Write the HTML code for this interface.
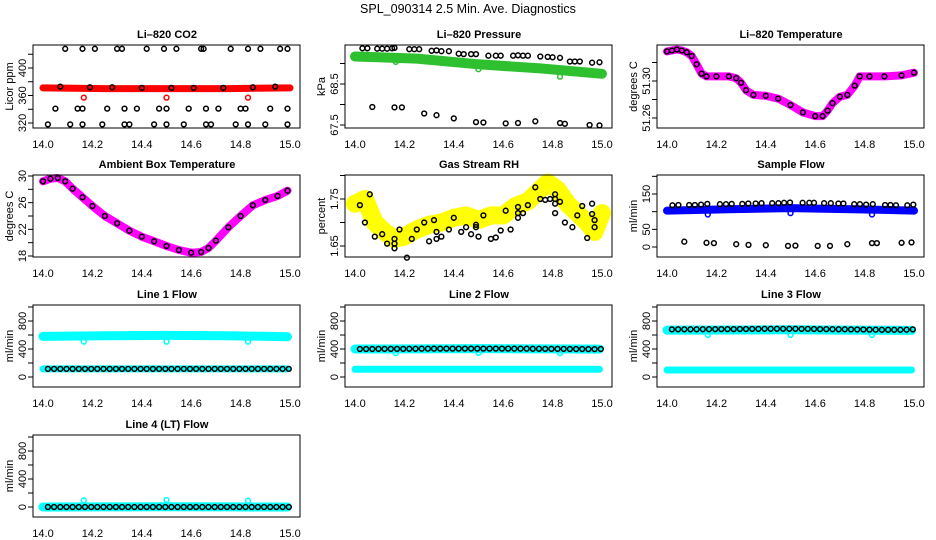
<!DOCTYPE html>
<html><head><meta charset="utf-8">
<style>
html,body{margin:0;padding:0;background:#fff;}
svg{display:block;font-family:"Liberation Sans",Arial,sans-serif;}
.tl{font-size:11px;fill:#000;}
.tt{font-size:11px;font-weight:bold;fill:#000;}
</style></head>
<body>
<svg id="chart" width="936" height="540" viewBox="0 0 936 540" xmlns="http://www.w3.org/2000/svg">
<text x="468" y="13" text-anchor="middle" style="font-size:12.5px">SPL_090314  2.5 Min. Ave. Diagnostics</text>
</svg>
<script>
// ---------- data ----------
const xTickLabels = ["14.0","14.2","14.4","14.6","14.8","15.0"];
const xTickValues = [14.0,14.2,14.4,14.6,14.8,15.0];

// CO2
const co2BandT = [14.0,14.25,14.5,14.75,15.0];
const co2BandV = [371,370,370,370,371];
const co2RedOutT = [14.165,14.5,14.83];
const co2RedOutV = [357,357,357];
const co2BlackT = [14.09,14.16,14.21,14.30,14.32,14.42,14.49,14.54,14.64,14.65,14.76,14.83,14.88,14.96,14.99,
  14.07,14.19,14.28,14.40,14.52,14.61,14.73,14.85,14.94,
  14.05,14.14,14.16,14.26,14.33,14.38,14.47,14.50,14.59,14.66,14.71,14.80,14.82,14.92,14.99,
  14.02,14.11,14.16,14.24,14.33,14.35,14.45,14.50,14.57,14.66,14.68,14.78,14.83,14.90,14.99];
const co2BlackV = [428,428,428,428,428,428,428,428,428,428,428,428,428,428,428,
  373,372,372,371,371,371,371,372,373,
  341,341,341,341,341,341,341,341,341,341,341,341,341,341,341,
  318,318,318,318,318,318,318,318,318,318,318,318,318,318,318];

// Pressure
const presBandT = [14.0,14.25,14.5,14.75,15.0];
const presBandV = [69.17,69.12,68.98,68.88,68.75];
const presGreenOutT = [14.165,14.5,14.83];
const presGreenOutV = [69.04,68.86,68.68];
const presUpperT = [14.03,14.05,14.09,14.11,14.13,14.15,14.16,14.22,14.24,14.26,14.31,14.33,14.35,14.38,14.42,14.44,14.47,14.49,14.54,14.57,14.59,14.64,14.66,14.68,14.70,14.75,14.78,14.80,14.83,14.87,14.89,14.91,14.96,14.99];
const presUpperV = [69.37,69.37,69.36,69.36,69.36,69.37,69.38,69.35,69.35,69.35,69.31,69.32,69.30,69.30,69.24,69.23,69.23,69.23,69.19,69.19,69.19,69.19,69.20,69.19,69.19,69.17,69.16,69.15,69.14,69.05,69.05,69.05,69.02,69.03];
const presLowT = [14.07,14.16,14.19,14.28,14.33,14.40,14.49,14.52,14.61,14.66,14.73,14.83,14.85,14.95,14.99];
const presLowV = [67.94,67.93,67.93,67.78,67.74,67.66,67.57,67.56,67.54,67.55,67.59,67.55,67.53,67.50,67.49];

// Li-820 temperature
const tempT = [14.0,14.02,14.04,14.06,14.08,14.10,14.12,14.14,14.16,14.20,14.25,14.28,14.30,14.32,14.35,14.40,14.45,14.50,14.55,14.60,14.63,14.65,14.67,14.70,14.73,14.76,14.78,14.82,14.88,14.95,15.0];
const tempV = [51.332,51.333,51.334,51.333,51.331,51.327,51.318,51.308,51.305,51.305,51.305,51.303,51.298,51.290,51.285,51.284,51.281,51.274,51.266,51.262,51.262,51.268,51.276,51.283,51.285,51.295,51.305,51.305,51.305,51.306,51.309];

// Ambient box temperature
const ambT = [14.0,14.03,14.06,14.09,14.12,14.16,14.2,14.25,14.3,14.35,14.4,14.45,14.5,14.55,14.6,14.64,14.67,14.7,14.75,14.8,14.85,14.9,14.95,14.99];
const ambV = [29.2,29.6,29.7,29.2,28.1,26.8,25.5,24.0,22.9,21.8,20.9,20.2,19.5,18.9,18.5,18.6,19.2,20.3,22.3,24.0,25.6,26.4,27.0,27.8];

// Gas stream RH
const rhBandT = [14.0,14.04,14.08,14.12,14.16,14.2,14.25,14.3,14.35,14.4,14.45,14.5,14.55,14.6,14.65,14.7,14.75,14.78,14.82,14.86,14.9,14.94,14.97,15.0];
const rhBandV = [1.74,1.75,1.70,1.68,1.665,1.67,1.685,1.695,1.70,1.71,1.715,1.705,1.715,1.715,1.735,1.745,1.77,1.785,1.77,1.74,1.72,1.70,1.68,1.72];
const rhBlackT = [14.02,14.04,14.06,14.08,14.11,14.13,14.16,14.16,14.16,14.18,14.21,14.23,14.25,14.28,14.30,14.32,14.33,14.33,14.35,14.38,14.40,14.43,14.45,14.47,14.49,14.49,14.50,14.52,14.55,14.57,14.59,14.61,14.63,14.66,14.66,14.66,14.68,14.70,14.73,14.75,14.77,14.79,14.81,14.81,14.81,14.81,14.83,14.85,14.88,14.90,14.92,14.94,14.96,14.96,14.97,14.97];
const rhBlackV = [1.737,1.70,1.76,1.67,1.675,1.655,1.665,1.645,1.655,1.685,1.625,1.665,1.685,1.70,1.66,1.705,1.68,1.665,1.67,1.685,1.71,1.68,1.69,1.675,1.695,1.69,1.67,1.715,1.665,1.668,1.683,1.725,1.685,1.733,1.72,1.71,1.72,1.737,1.775,1.75,1.748,1.75,1.75,1.76,1.74,1.72,1.744,1.70,1.69,1.715,1.735,1.667,1.74,1.718,1.705,1.69];

// Sample flow
const sfBandT = [14.0,14.25,14.5,14.75,15.0];
const sfBandV = [103,107,110,107,103];
const sfBlueOutT = [14.165,14.5,14.83];
const sfBlueOutV = [92,96,92];
const sfUpperT = [14.022,14.046,14.090,14.113,14.138,14.163,14.214,14.239,14.262,14.305,14.329,14.359,14.383,14.426,14.451,14.474,14.498,14.549,14.576,14.595,14.636,14.663,14.694,14.714,14.758,14.781,14.806,14.833,14.883,14.905,14.927,14.973,14.997];
const sfUpperV = [118,119,119,119,120,122,121,121,122,122,123,123,124,124,124,125,126,125,125,125,124,124,123,123,121,121,120,121,119,119,118,118,120];
const sfLowT = [14.07,14.16,14.19,14.28,14.33,14.40,14.49,14.52,14.61,14.66,14.73,14.83,14.85,14.95,14.99];
const sfLowV = [15,12,11,8,6,5,3,4,3,3,8,11,11,12,13];

// Line flows
const flowT = [14.02,14.045,14.07,14.095,14.12,14.145,14.17,14.195,14.22,14.245,14.27,14.295,14.32,14.345,14.37,14.395,14.42,14.445,14.47,14.495,14.52,14.545,14.57,14.595,14.62,14.645,14.67,14.695,14.72,14.745,14.77,14.795,14.82,14.845,14.87,14.895,14.92,14.945,14.97,14.995];
const line1Black = [115,115,115,115,115,115,115,115,115,115,115,115,115,115,115,115,115,115,115,115,115,115,115,115,115,115,115,115,115,115,115,115,115,115,115,115,115,115,115,115];
const line2Black = [400,400,400,401,401,402,402,402,403,403,404,404,404,405,405,405,406,406,406,406,406,406,405,405,405,404,404,404,403,403,402,402,401,401,400,400,400,399,399,400];
const line3Black = [680,681,681,682,682,683,683,684,684,685,685,686,686,687,687,688,688,688,688,688,688,687,687,686,685,684,683,682,681,680,679,678,677,676,675,674,674,675,676,680];
const line4Black = [0,0,0,0,0,0,0,0,0,0,0,0,0,0,0,0,0,0,0,0,0,0,0,0,0,0,0,0,0,0,0,0,0,0,0,0,0,0,0,0];
const bandT = [14.0,14.25,14.5,14.75,14.99];
const line1Top = [580,590,595,590,575];
const line1Bot = [115,115,115,115,115];
const line2Top = [400,402,405,402,398];
const line2Bot = [110,110,110,110,110];
const line3Top = [670,672,675,670,665];
const line3Bot = [100,100,100,100,100];
const line4Top = [0,2,3,2,0];
const outT = [14.165,14.5,14.83];
const line1Out = [505,505,505];
const line2Out = [340,345,340];
const line3Out = [600,600,600];
const line4Out = [95,100,90];

// ---------- drawing ----------
const svg = document.getElementById('chart');
const NS = 'http://www.w3.org/2000/svg';
function mk(tag, attrs, parent){
  const e = document.createElementNS(NS, tag);
  for (const k in attrs) e.setAttribute(k, attrs[k]);
  (parent||svg).appendChild(e);
  return e;
}

function panel(cfg){
  const g = mk('g', {});
  
  
  const off = cfg.off, top = cfg.top, bot = cfg.bot;
  const bl = off + 33, br = off + 300;
  const xs = t => off + 43 + (t - 14) * 247;
  const ys = v => cfg.p0 + (v - cfg.v0) * (cfg.p1 - cfg.p0) / (cfg.v1 - cfg.v0);

  const plot = mk('g', {}, g);
  
  

  cfg.series.forEach(s => {
    if (s.type === 'band') {
      const d = s.t.map((t, i) => (i ? 'L' : 'M') + xs(t).toFixed(1) + ' ' + Math.max(top + 1, Math.min(bot - 1, ys(s.v[i]))).toFixed(1)).join(' ');
      const pl = mk('path', {d: d, fill: 'none', stroke: s.color, 'stroke-width': s.w, 'stroke-linecap': 'round', 'stroke-linejoin': 'round'}, plot);
      
      
    } else {
      const sg = mk('g', {}, plot);
      
      
      s.t.forEach((t, i) => {
        const c = mk('circle', {cx: xs(t).toFixed(1), cy: ys(s.v[i]).toFixed(1), r: 2.4, fill: 'none', stroke: s.color, 'stroke-width': 1.5}, sg);
        
        
      });
    }
  });

  const box = mk('rect', {x: bl, y: top, width: br - bl, height: bot - top, fill: 'none', stroke: '#000', 'stroke-width': 1}, g);
  
  

  const ax = bl;
  const yy = cfg.ticks.map(ys);
  const yl = mk('line', {x1: ax, x2: ax, y1: Math.min(...yy), y2: Math.max(...yy), stroke: '#000'}, g);
  
  
  cfg.ticks.forEach(v => {
    const y = ys(v);
    const tk = mk('line', {x1: ax - 5, x2: ax, y1: y, y2: y, stroke: '#000'}, g);
    
    
  });
  cfg.labels.forEach((lab, i) => {
    const y = ys(cfg.labelVals[i]);
    const tx = mk('text', {x: 0, y: 0, class: 'tl', 'text-anchor': 'middle', transform: 'translate(' + (ax - 7) + ',' + y + ') rotate(-90)'}, g);
    tx.textContent = lab;
    
    
  });
  const yt = mk('text', {x: 0, y: 0, class: 'tl', 'text-anchor': 'middle', transform: 'translate(' + (off + 13) + ',' + ((top + bot) / 2) + ') rotate(-90)'}, g);
  yt.textContent = cfg.ylab;
  
  

  xTickValues.forEach((v, i) => {
    const tx = mk('text', {x: xs(v), y: bot + 20, class: 'tl', 'text-anchor': 'middle'}, g);
    tx.textContent = xTickLabels[i];
    
    
  });
  const tt = mk('text', {x: off + 167, y: top - 7, class: 'tt', 'text-anchor': 'middle'}, g);
  tt.textContent = cfg.title;
  
  
}

const R = [[45,128],[175,257],[305,387],[435,517]];
const C = [0,312,624];
const flowTicks = [0,200,400,600,800,1000];

panel({name:'co2-panel', off:C[0], top:R[0][0], bot:R[0][1], v0:320, p0:123, v1:400, p1:68,
  ticks:[320,340,360,380,400,420], labels:['320','360','400'], labelVals:[320,360,400], ylab:'Licor ppm', title:'Li\u2013820 CO2',
  series:[{type:'band',name:'co2-band',t:co2BandT,v:co2BandV,color:'#ff0000',w:7},
          {type:'pts',name:'co2-red-outliers',t:co2RedOutT,v:co2RedOutV,color:'#ff0000'},
          {type:'pts',name:'co2-black-points',t:co2BlackT,v:co2BlackV,color:'#000'}]});

panel({name:'pressure-panel', off:C[1], top:R[0][0], bot:R[0][1], v0:67.5, p0:125, v1:68.5, p1:84,
  ticks:[67.5,68,68.5,69], labels:['67.5','68.5'], labelVals:[67.5,68.5], ylab:'kPa', title:'Li\u2013820 Pressure',
  series:[{type:'band',name:'pressure-band',t:presBandT,v:presBandV,color:'#2ec02e',w:10},
          {type:'pts',name:'pressure-green-outliers',t:presGreenOutT,v:presGreenOutV,color:'#2ec02e'},
          {type:'pts',name:'pressure-upper-points',t:presUpperT,v:presUpperV,color:'#000'},
          {type:'pts',name:'pressure-lower-points',t:presLowT,v:presLowV,color:'#000'}]});

panel({name:'li820-temp-panel', off:C[2], top:R[0][0], bot:R[0][1], v0:51.26, p0:118, v1:51.30, p1:81,
  ticks:[51.26,51.28,51.30,51.32], labels:['51.26','51.30'], labelVals:[51.26,51.30], ylab:'degrees C', title:'Li\u2013820 Temperature',
  series:[{type:'band',name:'temp-band',t:tempT,v:tempV,color:'#ff00ff',w:8},
          {type:'pts',name:'temp-points',t:tempT,v:tempV,color:'#000'}]});

panel({name:'ambient-temp-panel', off:C[0], top:R[1][0], bot:R[1][1], v0:18, p0:256, v1:30, p1:176,
  ticks:[18,20,22,24,26,28,30], labels:['18','22','26','30'], labelVals:[18,22,26,30], ylab:'degrees C', title:'Ambient Box Temperature',
  series:[{type:'band',name:'ambient-band',t:ambT,v:ambV,color:'#ff00ff',w:8},
          {type:'pts',name:'ambient-points',t:ambT,v:ambV,color:'#000'}]});

panel({name:'rh-panel', off:C[1], top:R[1][0], bot:R[1][1], v0:1.65, p0:246, v1:1.75, p1:199,
  ticks:[1.65,1.70,1.75,1.80], labels:['1.65','1.75'], labelVals:[1.65,1.75], ylab:'percent', title:'Gas Stream RH',
  series:[{type:'band',name:'rh-band',t:rhBandT,v:rhBandV,color:'#ffff00',w:18},
          {type:'pts',name:'rh-points',t:rhBlackT,v:rhBlackV,color:'#000'}]});

panel({name:'sample-flow-panel', off:C[2], top:R[1][0], bot:R[1][1], v0:0, p0:247, v1:150, p1:194,
  ticks:[0,50,100,150,200], labels:['0','50','150'], labelVals:[0,50,150], ylab:'ml/min', title:'Sample Flow',
  series:[{type:'band',name:'sample-flow-band',t:sfBandT,v:sfBandV,color:'#0000ff',w:8},
          {type:'pts',name:'sample-flow-blue-outliers',t:sfBlueOutT,v:sfBlueOutV,color:'#0000ff'},
          {type:'pts',name:'sample-flow-upper-points',t:sfUpperT,v:sfUpperV,color:'#000'},
          {type:'pts',name:'sample-flow-lower-points',t:sfLowT,v:sfLowV,color:'#000'}]});

function flowPanel(name, off, row, title, top, bot, out, black){
  const series = [{type:'band',name:'cyan-band-upper',t:bandT,v:top,color:'#00ffff',w:9}];
  if (bot) series.push({type:'band',name:'cyan-band-lower',t:bandT,v:bot,color:'#00ffff',w:7});
  series.push({type:'pts',name:'cyan-outliers',t:outT,v:out,color:'#00ffff'});
  series.push({type:'pts',name:'black-points',t:flowT,v:black,color:'#000'});
  panel({name:name, off:off, top:R[row][0], bot:R[row][1], v0:0, p0:R[row][0]+72, v1:800, p1:R[row][0]+16,
    ticks:flowTicks, labels:['0','400','800'], labelVals:[0,400,800], ylab:'ml/min', title:title, series:series});
}
flowPanel('line1-flow-panel', C[0], 2, 'Line 1 Flow', line1Top, line1Bot, line1Out, line1Black);
flowPanel('line2-flow-panel', C[1], 2, 'Line 2 Flow', line2Top, line2Bot, line2Out, line2Black);
flowPanel('line3-flow-panel', C[2], 2, 'Line 3 Flow', line3Top, line3Bot, line3Out, line3Black);
flowPanel('line4-flow-panel', C[0], 3, 'Line 4 (LT) Flow', line4Top, null, line4Out, line4Black);
</script>
</body></html>
